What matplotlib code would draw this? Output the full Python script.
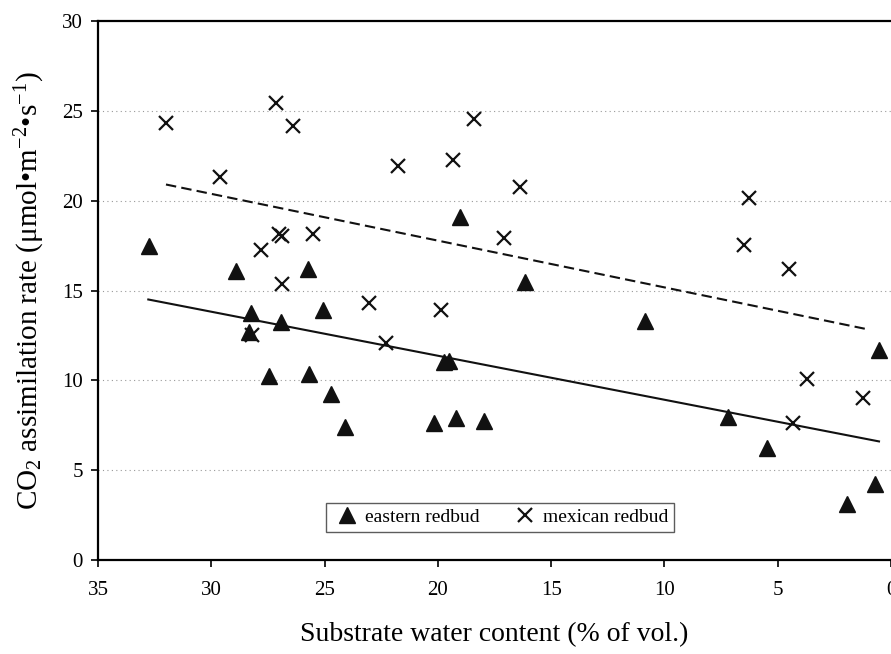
import matplotlib
matplotlib.use("Agg")
import matplotlib.pyplot as plt

# eastern redbud (triangles)
eastern_x = [32.75, 28.92, 25.74, 28.25, 28.32, 26.94, 25.08, 27.44, 25.67, 24.72,
             24.10, 20.16, 19.21, 17.95, 19.72, 19.50, 19.01, 16.14, 10.84, 7.18,
             5.46, 1.93, 0.71, 0.52]
eastern_y = [17.50, 16.11, 16.20, 13.76, 12.68, 13.24, 13.89, 10.24, 10.33, 9.26,
             7.41, 7.63, 7.93, 7.74, 11.02, 11.07, 19.11, 15.50, 13.29, 7.96,
             6.21, 3.11, 4.22, 11.67]

# mexican redbud (crosses)
mexican_x = [32.01, 27.16, 26.39, 18.39, 29.62, 21.77, 19.33, 27.01, 26.89, 25.51,
             27.81, 26.87, 23.05, 19.87, 28.22, 22.30, 17.07, 16.39, 6.27, 6.49,
             4.52, 3.71, 1.22, 4.31]
mexican_y = [24.35, 25.46, 24.17, 24.57, 21.33, 21.91, 22.26, 18.15, 18.06, 18.15,
             17.26, 15.37, 14.32, 13.89, 12.50, 12.07, 17.93, 20.78, 20.13, 17.56,
             16.21, 10.06, 9.02, 7.63]

# trend lines (end points)
eastern_fit_x = [32.78, 0.53]
eastern_fit_y = [14.50, 6.60]
mexican_fit_x = [32.00, 1.15]
mexican_fit_y = [20.90, 12.87]

xticks = [35, 30, 25, 20, 15, 10, 5, 0]
yticks = [0, 5, 10, 15, 20, 25, 30]

plt.rcParams['font.family'] = ['Liberation Serif', 'DejaVu Serif']
plt.rcParams['mathtext.fontset'] = 'custom'
plt.rcParams['mathtext.rm'] = 'Liberation Serif'
plt.rcParams['mathtext.it'] = 'Liberation Serif:italic'
plt.rcParams['mathtext.bf'] = 'Liberation Serif:bold'

fig = plt.figure(figsize=(8.91, 6.54), dpi=100)
ax = fig.add_axes([98 / 891, 1 - 560 / 654, 793 / 891, 539 / 654])

for y in yticks[1:-1]:
    ax.axhline(y, color='#999999', lw=0.8, ls=(0, (1, 3)), zorder=0)

ax.plot(eastern_fit_x, eastern_fit_y, color='#111111', lw=1.5, zorder=2)
ax.plot(mexican_fit_x, mexican_fit_y, color='#111111', lw=1.5,
        dashes=(5, 2.5), zorder=2)

ax.plot(eastern_x, eastern_y, '^', color='#111111', ms=11, ls='none',
        label='eastern redbud', zorder=3)
ax.plot(mexican_x, mexican_y, 'x', color='#111111', ms=10, mew=1.6, ls='none',
        label='mexican redbud', zorder=3)

ax.set_xlim(35, 0)
ax.set_ylim(0, 30)
ax.set_xticks(xticks)
ax.set_yticks(yticks)
ax.tick_params(axis='both', direction='out', length=5, width=1.2,
               labelsize=15)
ax.tick_params(axis='x', pad=10)
ax.tick_params(axis='y', pad=6)

for side in ['left', 'bottom', 'top']:
    ax.spines[side].set_linewidth(1.6)
ax.spines['right'].set_visible(False)

ax.set_xlabel('Substrate water content (% of vol.)', fontsize=20, labelpad=16)
ax.set_ylabel('CO$_2$ assimilation rate (\u03bcmol\u2022m$^{\\mathregular{-2}}$'
              '\u2022s$^{\\mathregular{-1}}$)', fontsize=21, labelpad=11)

leg = ax.legend(loc='lower left', bbox_to_anchor=(0.2875, 0.052), ncol=2,
                fontsize=14, frameon=True, fancybox=False, edgecolor='#333333',
                handlelength=1.6, handletextpad=0.1, columnspacing=1.55,
                borderpad=0.3, borderaxespad=0)
leg.get_frame().set_linewidth(1.0)

fig.savefig('out.png', dpi=100)
